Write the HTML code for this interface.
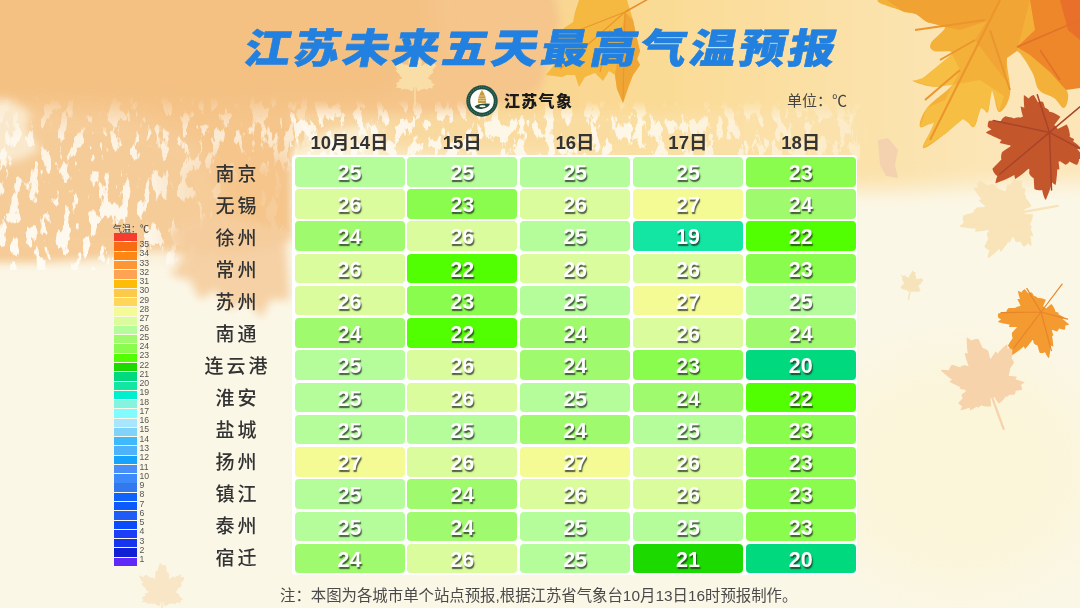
<!DOCTYPE html>
<html><head><meta charset="utf-8">
<style>
*{margin:0;padding:0;box-sizing:border-box}
html,body{width:1080px;height:608px;overflow:hidden}
body{position:relative;background:#fbf5e8;font-family:"Liberation Sans","Noto Sans CJK SC",sans-serif}
#bg{position:absolute;left:0;top:0;width:1080px;height:608px}
.title{position:absolute;left:251px;top:19.3px;font-family:"Liberation Sans","Noto Sans CJK SC",sans-serif;font-weight:900;font-size:40.6px;letter-spacing:2.65px;color:#2180e0;-webkit-text-stroke:0.6px #2180e0;transform-origin:0 0;transform:scaleX(1.145) skewX(-10deg);white-space:nowrap;line-height:60px}
.logo{position:absolute;left:466px;top:84.5px;width:32px;height:32px}
.logotxt{position:absolute;left:504px;top:89.5px;font-family:"Liberation Sans","Noto Sans CJK SC",sans-serif;font-weight:900;font-size:16px;letter-spacing:1.3px;color:#1a1a1a;line-height:24px;white-space:nowrap}
.unit{position:absolute;left:787px;top:89.5px;font-family:"Liberation Sans","Noto Sans CJK SC",sans-serif;font-size:15px;color:#444;line-height:22px;white-space:nowrap}
.hd{position:absolute;top:130.5px;width:110px;text-align:center;font-family:"Liberation Sans","Noto Sans CJK SC",sans-serif;font-weight:700;font-size:18.5px;color:#333;line-height:24px}
#tblbg{position:absolute;left:292px;top:155px;width:565px;height:420px;background:#fff;border-radius:4px}
.cell{position:absolute;width:110px;height:29.5px;border-radius:4px;text-align:center;color:#fff;font-family:"Liberation Sans","Noto Sans CJK SC",sans-serif;font-weight:700;font-size:21.5px;line-height:33px;text-shadow:1px 1.5px 1.2px rgba(30,40,30,.75)}
.city{position:absolute;left:196px;width:80px;text-align:center;font-family:"Liberation Sans","Noto Sans CJK SC",sans-serif;font-weight:500;font-size:19px;letter-spacing:3px;color:#333;line-height:30px;padding-left:3px;margin-top:2.5px}
.t27{background:#f5fb94}.t26{background:#dbfc9c}.t25{background:#b5fd9b}.t24{background:#a0fa6e}.t23{background:#8afc4e}
.t22{background:#52fe02}.t21{background:#1cd900}.t20{background:#00d97e}.t19{background:#12e6a2}
.lb{position:absolute;left:114px;width:22.5px;height:8.3px}
#legbg{position:absolute;left:114px;top:233px;width:22.5px;height:334px;background:#fdfbf3}
.ll{position:absolute;left:139.5px;font-family:"Liberation Sans","Noto Sans CJK SC",sans-serif;font-size:8.7px;color:#555;line-height:10px}
.legt{position:absolute;left:113px;top:223px;font-family:"Liberation Sans","Noto Sans CJK SC",sans-serif;font-size:9px;color:#333;line-height:12px;white-space:nowrap}
.foot{position:absolute;left:280px;top:584.5px;font-family:"Liberation Sans","Noto Sans CJK SC",sans-serif;font-size:15.4px;color:#4a4a4a;line-height:22px;white-space:nowrap}
</style></head><body>
<svg id="bg" width="1080" height="608" viewBox="0 0 1080 608">
<defs>
<filter id="b4" x="-20%" y="-20%" width="140%" height="140%"><feGaussianBlur stdDeviation="4"/></filter>
<filter id="b10" x="-30%" y="-30%" width="160%" height="160%"><feGaussianBlur stdDeviation="10"/></filter>
<filter id="b25" x="-30%" y="-30%" width="160%" height="160%"><feGaussianBlur stdDeviation="25"/></filter>
<path id="ml" d="M50,0 L56,14 L62,10 L60,26 L70,30 L76,18 L80,24 L92,20 L86,34 L94,38 L80,46 L84,52 L72,54 L80,66 L96,70 L84,76 L86,84 L70,80 L62,84 L54,72 L52,100 L48,100 L46,72 L38,84 L30,80 L14,84 L16,76 L4,70 L20,66 L28,54 L16,52 L20,46 L6,38 L14,34 L8,20 L20,24 L24,18 L30,30 L40,26 L38,10 L44,14 Z"/>
<filter id="mot" x="0" y="0" width="100%" height="100%" filterUnits="userSpaceOnUse"><feTurbulence type="fractalNoise" baseFrequency="0.10 0.04" numOctaves="4" seed="11" result="n"/><feColorMatrix in="n" type="matrix" values="0 0 0 0 0.99  0 0 0 0 0.965  0 0 0 0 0.90  16 0 0 0 -8.9"/></filter>
<linearGradient id="mg" x1="0" y1="95" x2="0" y2="265" gradientUnits="userSpaceOnUse"><stop offset="0" stop-color="#fff" stop-opacity="0"/><stop offset=".25" stop-color="#fff" stop-opacity=".8"/><stop offset="1" stop-color="#fff" stop-opacity="1"/></linearGradient>
<linearGradient id="mx" x1="140" y1="0" x2="230" y2="0" gradientUnits="userSpaceOnUse"><stop offset="0" stop-color="#000" stop-opacity="0"/><stop offset="1" stop-color="#000" stop-opacity=".85"/></linearGradient>
<linearGradient id="my" x1="0" y1="130" x2="0" y2="175" gradientUnits="userSpaceOnUse"><stop offset="0" stop-color="#fff" stop-opacity="0"/><stop offset="1" stop-color="#fff" stop-opacity="1"/></linearGradient>
<mask id="mxy" maskUnits="userSpaceOnUse" x="-10" y="90" width="320" height="180"><rect x="-10" y="90" width="320" height="180" fill="url(#my)"/></mask>
<mask id="mm" maskUnits="userSpaceOnUse" x="-10" y="90" width="320" height="180"><rect x="-10" y="90" width="320" height="180" fill="url(#mg)"/><rect x="-10" y="90" width="320" height="180" fill="url(#mx)" mask="url(#mxy)"/></mask>
<filter id="mot2" x="0" y="0" width="100%" height="100%" filterUnits="userSpaceOnUse"><feTurbulence type="fractalNoise" baseFrequency="0.11 0.05" numOctaves="4" seed="23" result="n"/><feColorMatrix in="n" type="matrix" values="0 0 0 0 0.995  0 0 0 0 0.975  0 0 0 0 0.92  16 0 0 0 -8.4"/></filter>
<linearGradient id="mg2" x1="0" y1="100" x2="0" y2="158" gradientUnits="userSpaceOnUse"><stop offset="0" stop-color="#fff" stop-opacity="0"/><stop offset=".35" stop-color="#fff" stop-opacity=".85"/><stop offset="1" stop-color="#fff" stop-opacity=".85"/></linearGradient>
<linearGradient id="mx2" x1="620" y1="0" x2="860" y2="0" gradientUnits="userSpaceOnUse"><stop offset="0" stop-color="#000" stop-opacity="0"/><stop offset="1" stop-color="#000" stop-opacity=".6"/></linearGradient>
<mask id="mm2" maskUnits="userSpaceOnUse" x="290" y="100" width="570" height="60"><rect x="290" y="100" width="570" height="60" fill="url(#mg2)"/><rect x="290" y="100" width="570" height="60" fill="url(#mx2)"/></mask>
<linearGradient id="yw" x1="380" y1="0" x2="1000" y2="0" gradientUnits="userSpaceOnUse"><stop offset="0" stop-color="#f7ce8c"/><stop offset=".45" stop-color="#fadb95"/><stop offset="1" stop-color="#fce6b8"/></linearGradient>
</defs>
<rect width="1080" height="608" fill="#fbf7e7"/>
<ellipse cx="960" cy="470" rx="140" ry="120" fill="#fbf5da" filter="url(#b25)"/>
<path d="M380,-60 L1140,-60 L1140,180 L1000,185 L900,190 L860,190 L700,170 L560,160 L380,150 Z" fill="url(#yw)" filter="url(#b10)"/>
<path d="M-60,-60 L540,-60 L560,20 L540,90 L470,115 L400,120 L330,130 L292,150 L292,240 L230,255 L150,250 L100,258 L40,262 L-60,262 Z" fill="#f5c58b" filter="url(#b4)"/>
<path d="M-60,-60 L420,-60 L440,60 L380,100 L200,110 L-60,100 Z" fill="#f4c183" filter="url(#b10)"/>
<path d="M-60,105 L120,110 L200,140 L230,200 L200,262 L-60,262 Z" fill="#f8dcb8" filter="url(#b10)" opacity=".3"/>
<path d="M-10,98 L10,100 L30,112 L26,130 L40,150 L20,160 L-10,165 Z" fill="#fbecd2" filter="url(#b4)" opacity=".9"/>
<g mask="url(#mm)"><rect x="-10" y="90" width="320" height="180" filter="url(#mot)"/></g>
<path d="M180,220 L230,215 L285,230 L290,300 L270,300 L262,318 L245,300 L230,310 L215,290 L200,300 L190,280 L170,275 L185,255 L165,240 Z" fill="#f5cd9e" filter="url(#b4)" opacity=".9"/>
<path d="M292,112 L860,112 L860,156 L292,156 Z" fill="#fbe3b2" filter="url(#b4)" opacity=".45"/>
<g mask="url(#mm2)"><rect x="290" y="100" width="570" height="60" filter="url(#mot2)"/></g>
<path d="M579,0 L627,0 L633,20 L637,39 L640,51 L637,59 L640,65 L633,75 L629,85 L623,103 L617,89 L615,75 L609,71 L603,81 L595,73 L585,77 L579,87 L575,75 L567,75 L562,77 L546,75 L554,65 L560,55 L564,45 L556,39 L564,28 L573,22 L575,12 Z" fill="#f5b941"/>
<path d="M625,12 L633,20 L637,39 L640,51 L637,59 L640,65 L633,75 L629,85 L623,103 L617,89 L615,75 Z" fill="#f0a634"/>
<path d="M625,12 L650,-2" stroke="#e98c2c" stroke-width="1.5"/>
<path d="M625,12 L623,100 M625,12 L560,69 M625,12 L579,30 M610,30 L600,72" stroke="#ec952e" stroke-width="1.1" fill="none"/>
<path d="M878,140 L888,138 L898,150 L895,165 L898,178 L886,176 L880,165 Z" fill="#f4d2b0"/>

<path d="M415.0,87.0 L414.9,87.0 L414.7,87.0 L414.6,87.0 L414.4,87.0 L414.3,87.0 L414.1,87.0 L414.0,87.0 L413.8,86.9 L412.8,91.3 L412.6,91.3 L412.4,91.2 L412.1,91.2 L411.9,91.1 L411.7,91.0 L411.4,91.0 L411.2,90.9 L411.0,90.8 L410.8,90.7 L410.5,90.6 L410.3,90.5 L410.1,90.4 L409.9,90.3 L409.7,90.2 L409.5,90.1 L409.2,90.0 L409.0,89.9 L408.8,89.7 L408.6,89.6 L408.4,89.5 L408.2,89.3 L408.0,89.2 L408.0,88.9 L407.6,88.9 L407.2,89.1 L406.7,89.2 L406.2,89.4 L405.6,89.6 L405.5,89.3 L405.4,89.0 L405.4,88.7 L404.8,88.8 L404.2,88.9 L403.6,89.1 L402.9,89.2 L402.2,89.3 L401.5,89.4 L400.8,89.4 L400.9,88.9 L401.1,88.4 L401.4,87.8 L400.7,87.9 L399.9,87.9 L399.2,87.9 L398.4,87.8 L397.5,87.8 L396.7,87.7 L395.8,87.6 L396.3,87.0 L396.8,86.3 L397.5,85.7 L397.2,85.4 L396.9,85.0 L396.7,84.7 L396.5,84.3 L396.3,84.0 L396.1,83.6 L396.0,83.2 L397.2,82.6 L398.3,82.1 L399.4,81.6 L399.3,81.3 L399.2,81.0 L399.2,80.7 L399.2,80.3 L399.2,80.0 L399.3,79.7 L399.4,79.3 L400.4,79.1 L401.3,78.8 L402.1,78.6 L402.2,78.4 L402.3,78.1 L402.4,77.9 L401.8,77.5 L401.1,77.1 L400.4,76.6 L399.7,76.1 L399.8,75.7 L399.9,75.4 L400.1,75.2 L399.5,74.6 L398.8,74.0 L398.2,73.3 L397.5,72.6 L396.8,71.9 L396.1,71.1 L395.4,70.3 L396.0,70.0 L396.6,69.9 L397.3,69.8 L396.7,68.9 L396.1,68.0 L395.5,67.0 L394.9,66.0 L394.3,64.9 L393.7,63.8 L393.1,62.6 L394.1,62.7 L395.7,63.3 L397.5,64.2 L397.7,63.8 L398.0,63.4 L398.4,63.0 L398.7,62.7 L399.1,62.4 L399.6,62.1 L400.0,61.9 L401.4,62.9 L402.7,63.8 L403.9,64.8 L404.3,64.6 L404.7,64.5 L405.1,64.4 L405.5,64.4 L406.0,64.4 L406.5,64.5 L406.9,64.6 L407.8,65.5 L408.3,65.8 L408.6,65.7 L408.6,64.8 L408.6,63.8 L408.6,62.8 L408.6,61.7 L408.7,60.6 L408.8,59.4 L408.9,58.2 L409.5,58.4 L410.0,58.7 L410.5,59.0 L410.8,57.9 L411.1,56.7 L411.4,55.5 L411.7,54.2 L412.2,52.9 L412.6,51.6 L413.1,50.2 L413.8,51.0 L414.4,51.9 L415.0,52.9 L415.6,52.8 L416.1,52.8 L416.7,52.8 L417.3,52.8 L417.8,52.9 L418.4,53.1 L418.9,53.3 L419.2,55.4 L419.3,57.2 L419.5,59.0 L419.9,59.3 L420.3,59.5 L420.6,59.8 L421.0,60.2 L421.3,60.6 L421.6,61.0 L421.9,61.5 L421.7,63.0 L421.6,64.4 L421.4,65.7 L421.5,66.1 L421.9,66.1 L422.6,65.5 L423.3,65.0 L424.0,64.4 L424.8,63.8 L425.6,63.2 L425.8,63.7 L426.0,64.2 L426.1,64.8 L426.9,64.3 L427.8,63.8 L428.8,63.3 L429.8,62.8 L430.9,62.4 L432.0,61.9 L433.2,61.5 L433.0,62.3 L432.8,63.3 L432.5,64.2 L433.7,63.9 L434.6,63.8 L435.0,64.1 L435.4,64.5 L435.7,64.9 L436.0,65.4 L436.3,65.9 L435.1,67.3 L433.9,68.6 L432.7,69.8 L432.9,70.2 L433.0,70.6 L433.1,71.0 L433.2,71.4 L433.2,71.9 L433.2,72.4 L433.1,72.8 L432.0,73.7 L430.9,74.5 L429.9,75.2 L429.8,75.5 L429.6,75.9 L429.4,76.3 L429.2,76.7 L428.9,77.1 L428.5,77.4 L428.3,77.8 L428.2,78.0 L428.1,78.3 L427.9,78.6 L428.4,78.9 L429.0,79.1 L429.6,79.4 L430.2,79.7 L430.8,80.0 L431.4,80.3 L432.0,80.7 L431.6,81.0 L431.2,81.4 L430.6,81.6 L431.2,82.0 L431.8,82.5 L432.4,82.9 L433.1,83.4 L433.7,84.0 L434.4,84.5 L435.0,85.1 L434.2,85.4 L433.4,85.6 L432.5,85.7 L432.6,86.1 L432.6,86.5 L432.6,87.0 L432.5,87.4 L432.5,87.8 L432.4,88.2 L432.2,88.6 L430.9,88.3 L429.7,88.1 L428.6,87.8 L428.5,88.2 L428.3,88.5 L428.2,88.8 L428.0,89.0 L427.8,89.3 L427.5,89.5 L427.2,89.7 L426.3,89.4 L425.4,89.0 L424.6,88.7 L424.4,88.8 L424.2,89.0 L423.9,89.1 L423.6,89.2 L423.3,89.2 L423.0,89.3 L422.7,89.2 L422.1,89.0 L422.0,89.2 L421.8,89.3 L421.6,89.5 L421.4,89.6 L421.2,89.7 L421.0,89.9 L420.8,90.0 L420.5,90.1 L420.3,90.2 L420.1,90.3 L419.9,90.4 L419.7,90.5 L419.5,90.6 L419.2,90.7 L419.0,90.8 L418.8,90.9 L418.6,91.0 L418.3,91.0 L418.1,91.1 L417.9,91.2 L417.6,91.2 L417.4,91.3 L417.2,91.3 L416.2,86.9 L416.0,87.0 L415.9,87.0 L415.7,87.0 L415.6,87.0 L415.4,87.0 L415.3,87.0 L415.1,87.0 L415.0,87.0 Z" fill="#f9dea8"/><path d="M415.0,83.2 L415.0,105.6" stroke="#f9dea8" stroke-width="1.5" fill="none" stroke-linecap="round"/>
<path d="M1024.6,211.8 L1024.6,212.0 L1024.6,212.3 L1024.7,212.6 L1024.7,212.8 L1024.7,213.1 L1024.7,213.4 L1024.8,213.6 L1024.8,213.9 L1032.9,214.3 L1032.9,214.7 L1032.8,215.2 L1032.8,215.6 L1032.8,216.0 L1032.7,216.5 L1032.7,216.9 L1032.6,217.3 L1032.5,217.8 L1032.5,218.2 L1032.4,218.6 L1032.3,219.1 L1032.1,219.5 L1032.0,219.9 L1031.9,220.3 L1031.8,220.7 L1031.6,221.1 L1031.5,221.6 L1031.3,222.0 L1031.1,222.4 L1031.0,222.8 L1030.8,223.2 L1030.6,223.5 L1030.0,223.7 L1030.2,224.4 L1030.6,225.1 L1031.1,225.9 L1031.6,226.8 L1032.1,227.8 L1031.7,228.1 L1031.2,228.3 L1030.5,228.5 L1030.9,229.4 L1031.3,230.5 L1031.8,231.5 L1032.2,232.7 L1032.6,233.8 L1032.9,235.1 L1033.3,236.4 L1032.4,236.3 L1031.4,236.1 L1030.3,235.8 L1030.5,237.1 L1030.8,238.4 L1031.0,239.8 L1031.2,241.2 L1031.4,242.7 L1031.5,244.3 L1031.6,245.9 L1030.3,245.2 L1029.0,244.4 L1027.7,243.5 L1027.2,244.1 L1026.7,244.7 L1026.2,245.2 L1025.6,245.7 L1025.0,246.1 L1024.4,246.5 L1023.7,246.8 L1022.3,244.9 L1021.0,243.1 L1019.8,241.3 L1019.3,241.6 L1018.7,241.8 L1018.2,242.0 L1017.6,242.1 L1017.0,242.1 L1016.4,242.1 L1015.7,242.1 L1015.0,240.4 L1014.3,238.9 L1013.6,237.5 L1013.1,237.4 L1012.6,237.3 L1012.2,237.1 L1011.7,238.4 L1011.1,239.7 L1010.5,241.1 L1009.8,242.5 L1009.2,242.5 L1008.6,242.4 L1008.1,242.1 L1007.2,243.4 L1006.4,244.7 L1005.4,246.1 L1004.4,247.6 L1003.3,249.0 L1002.1,250.5 L1000.8,252.1 L1000.2,251.1 L999.7,250.0 L999.3,248.8 L998.0,250.1 L996.5,251.5 L995.0,252.9 L993.4,254.3 L991.6,255.8 L989.8,257.2 L987.9,258.6 L987.7,256.8 L988.3,253.7 L989.4,250.2 L988.5,249.9 L987.7,249.5 L986.9,249.1 L986.2,248.5 L985.5,247.9 L984.9,247.2 L984.4,246.5 L985.7,243.6 L987.0,241.0 L988.3,238.6 L987.9,237.9 L987.6,237.3 L987.3,236.6 L987.1,235.8 L987.0,235.0 L987.0,234.1 L987.0,233.3 L988.4,231.4 L988.8,230.4 L988.5,229.9 L986.8,230.2 L985.1,230.6 L983.2,230.9 L981.3,231.1 L979.3,231.4 L977.2,231.6 L975.1,231.7 L975.2,230.7 L975.5,229.7 L976.0,228.5 L973.9,228.5 L971.7,228.4 L969.4,228.2 L967.0,227.9 L964.6,227.6 L962.1,227.2 L959.4,226.7 L960.6,225.3 L962.0,223.9 L963.7,222.5 L963.3,221.5 L963.0,220.5 L962.8,219.5 L962.8,218.5 L962.8,217.4 L962.9,216.4 L963.2,215.4 L966.7,214.3 L970.0,213.4 L973.2,212.6 L973.4,211.8 L973.8,211.1 L974.2,210.3 L974.7,209.6 L975.4,208.9 L976.1,208.2 L976.9,207.6 L979.6,207.3 L982.1,207.2 L984.4,207.1 L985.2,206.7 L985.0,206.1 L983.8,205.1 L982.6,204.0 L981.3,202.8 L980.0,201.6 L978.7,200.3 L979.4,199.8 L980.3,199.4 L981.3,199.0 L980.2,197.6 L979.0,196.2 L977.9,194.6 L976.7,193.0 L975.5,191.2 L974.4,189.4 L973.2,187.4 L974.8,187.4 L976.5,187.4 L978.3,187.7 L977.3,185.7 L976.9,184.1 L977.4,183.2 L977.9,182.5 L978.6,181.7 L979.3,181.1 L980.1,180.5 L983.0,182.2 L985.7,183.9 L988.2,185.6 L988.8,185.2 L989.5,184.8 L990.2,184.5 L991.0,184.2 L991.8,184.1 L992.7,184.0 L993.5,184.0 L995.4,185.7 L997.1,187.4 L998.7,189.0 L999.4,189.1 L1000.1,189.2 L1000.9,189.4 L1001.6,189.8 L1002.4,190.2 L1003.1,190.6 L1003.8,191.0 L1004.4,191.0 L1004.9,191.1 L1005.5,191.4 L1005.8,190.4 L1006.0,189.3 L1006.3,188.2 L1006.7,187.1 L1007.0,185.9 L1007.5,184.6 L1007.9,183.3 L1008.6,184.0 L1009.3,184.7 L1010.0,185.6 L1010.6,184.4 L1011.1,183.2 L1011.8,182.0 L1012.5,180.7 L1013.2,179.4 L1014.0,178.0 L1014.9,176.6 L1015.5,178.0 L1016.1,179.4 L1016.6,181.0 L1017.4,180.7 L1018.1,180.5 L1018.9,180.4 L1019.6,180.4 L1020.4,180.4 L1021.1,180.4 L1021.8,180.6 L1021.9,182.9 L1021.8,185.2 L1021.7,187.3 L1022.3,187.4 L1022.9,187.5 L1023.5,187.7 L1024.0,188.0 L1024.5,188.3 L1025.0,188.7 L1025.5,189.1 L1025.1,190.9 L1024.8,192.5 L1024.5,194.0 L1024.8,194.4 L1025.1,194.8 L1025.4,195.2 L1025.7,195.7 L1025.9,196.2 L1026.0,196.8 L1026.1,197.4 L1025.8,198.4 L1026.2,198.7 L1026.5,199.0 L1026.8,199.3 L1027.1,199.6 L1027.4,199.9 L1027.7,200.2 L1028.0,200.6 L1028.3,200.9 L1028.5,201.3 L1028.8,201.6 L1029.1,202.0 L1029.3,202.3 L1029.6,202.7 L1029.8,203.1 L1030.0,203.4 L1030.2,203.8 L1030.4,204.2 L1030.6,204.6 L1030.8,205.0 L1031.0,205.4 L1031.2,205.8 L1031.4,206.2 L1031.5,206.6 L1024.0,209.7 L1024.1,210.0 L1024.2,210.2 L1024.3,210.5 L1024.3,210.7 L1024.4,211.0 L1024.5,211.3 L1024.5,211.5 L1024.6,211.8 Z" fill="#f8e4b8"/><path d="M1017.7,213.0 L1057.7,205.9" stroke="#f8e4b8" stroke-width="2.3" fill="none" stroke-linecap="round"/>
<path d="M910.4,289.7 L910.3,289.7 L910.2,289.7 L910.1,289.6 L910.0,289.6 L910.0,289.6 L909.9,289.6 L909.8,289.5 L909.7,289.5 L908.8,291.7 L908.7,291.7 L908.6,291.6 L908.5,291.6 L908.4,291.5 L908.2,291.5 L908.1,291.4 L908.0,291.3 L907.9,291.3 L907.8,291.2 L907.7,291.1 L907.6,291.1 L907.5,291.0 L907.4,290.9 L907.3,290.8 L907.2,290.8 L907.1,290.7 L907.0,290.6 L906.9,290.5 L906.8,290.4 L906.7,290.3 L906.6,290.3 L906.5,290.2 L906.5,290.0 L906.3,290.0 L906.1,290.0 L905.8,290.1 L905.5,290.1 L905.2,290.2 L905.1,290.0 L905.1,289.8 L905.2,289.7 L904.8,289.7 L904.5,289.7 L904.2,289.7 L903.8,289.7 L903.5,289.7 L903.1,289.7 L902.7,289.6 L902.8,289.4 L903.0,289.1 L903.2,288.9 L902.8,288.8 L902.4,288.7 L902.0,288.7 L901.6,288.6 L901.1,288.5 L900.7,288.3 L900.2,288.2 L900.6,287.9 L900.9,287.6 L901.3,287.4 L901.2,287.2 L901.1,287.0 L901.0,286.8 L900.9,286.6 L900.8,286.4 L900.8,286.1 L900.8,285.9 L901.4,285.7 L902.1,285.6 L902.7,285.4 L902.7,285.2 L902.7,285.1 L902.7,284.9 L902.7,284.7 L902.8,284.5 L902.8,284.4 L902.9,284.2 L903.4,284.2 L903.9,284.1 L904.4,284.1 L904.4,284.0 L904.5,283.8 L904.6,283.7 L904.3,283.5 L904.0,283.2 L903.7,282.9 L903.4,282.5 L903.4,282.4 L903.5,282.2 L903.7,282.1 L903.4,281.7 L903.1,281.4 L902.8,281.0 L902.5,280.5 L902.2,280.1 L901.9,279.6 L901.6,279.1 L902.0,279.0 L902.3,279.0 L902.7,279.0 L902.4,278.5 L902.2,278.0 L902.0,277.4 L901.8,276.8 L901.5,276.2 L901.3,275.6 L901.1,274.9 L901.7,275.0 L902.4,275.5 L903.3,276.1 L903.5,275.9 L903.7,275.7 L903.9,275.6 L904.1,275.4 L904.3,275.3 L904.6,275.2 L904.8,275.1 L905.5,275.8 L906.1,276.4 L906.6,277.0 L906.8,277.0 L907.0,276.9 L907.3,276.9 L907.5,277.0 L907.7,277.0 L908.0,277.1 L908.2,277.2 L908.6,277.7 L908.8,278.0 L909.0,277.9 L909.1,277.4 L909.1,276.9 L909.2,276.4 L909.4,275.8 L909.5,275.3 L909.6,274.7 L909.8,274.0 L910.1,274.2 L910.4,274.4 L910.6,274.6 L910.8,274.1 L911.1,273.5 L911.4,272.8 L911.7,272.2 L912.0,271.6 L912.4,270.9 L912.8,270.3 L913.0,270.7 L913.3,271.2 L913.5,271.8 L913.8,271.8 L914.1,271.9 L914.4,271.9 L914.7,272.0 L915.0,272.1 L915.3,272.2 L915.5,272.4 L915.5,273.5 L915.4,274.5 L915.3,275.4 L915.5,275.6 L915.6,275.8 L915.8,276.0 L916.0,276.2 L916.1,276.4 L916.2,276.7 L916.3,277.0 L916.1,277.7 L915.9,278.4 L915.7,279.1 L915.7,279.3 L915.9,279.4 L916.3,279.1 L916.7,278.9 L917.1,278.7 L917.6,278.4 L918.1,278.2 L918.2,278.5 L918.2,278.7 L918.2,279.0 L918.7,278.9 L919.2,278.7 L919.8,278.5 L920.3,278.4 L920.9,278.2 L921.6,278.1 L922.2,278.0 L922.1,278.4 L921.9,278.9 L921.6,279.4 L922.3,279.3 L922.8,279.3 L922.9,279.5 L923.1,279.8 L923.2,280.0 L923.4,280.3 L923.4,280.6 L922.7,281.2 L921.9,281.8 L921.2,282.3 L921.3,282.5 L921.3,282.7 L921.3,283.0 L921.3,283.2 L921.3,283.4 L921.2,283.7 L921.1,283.9 L920.5,284.3 L919.8,284.6 L919.2,284.8 L919.1,285.0 L919.0,285.2 L918.9,285.4 L918.7,285.6 L918.5,285.7 L918.3,285.9 L918.1,286.0 L918.1,286.2 L918.0,286.3 L917.9,286.5 L918.1,286.6 L918.4,286.8 L918.7,287.0 L919.0,287.2 L919.2,287.5 L919.5,287.7 L919.9,287.9 L919.6,288.1 L919.3,288.2 L919.0,288.3 L919.3,288.6 L919.6,288.8 L919.8,289.2 L920.1,289.5 L920.4,289.8 L920.7,290.2 L921.0,290.5 L920.6,290.6 L920.1,290.6 L919.6,290.6 L919.6,290.8 L919.6,291.0 L919.6,291.3 L919.5,291.5 L919.4,291.7 L919.3,291.9 L919.2,292.1 L918.6,291.8 L918.0,291.6 L917.4,291.4 L917.3,291.5 L917.2,291.7 L917.1,291.8 L917.0,291.9 L916.8,292.0 L916.7,292.1 L916.5,292.2 L916.1,291.9 L915.6,291.7 L915.2,291.4 L915.1,291.5 L915.0,291.5 L914.8,291.6 L914.7,291.6 L914.5,291.6 L914.3,291.6 L914.1,291.5 L913.9,291.4 L913.8,291.4 L913.7,291.5 L913.6,291.6 L913.5,291.6 L913.3,291.7 L913.2,291.7 L913.1,291.8 L913.0,291.8 L912.9,291.8 L912.7,291.9 L912.6,291.9 L912.5,291.9 L912.4,292.0 L912.2,292.0 L912.1,292.0 L912.0,292.0 L911.9,292.1 L911.7,292.1 L911.6,292.1 L911.5,292.1 L911.3,292.1 L911.2,292.1 L911.1,292.1 L911.0,289.7 L910.9,289.7 L910.8,289.7 L910.7,289.7 L910.7,289.7 L910.6,289.7 L910.5,289.7 L910.4,289.7 L910.4,289.7 Z" fill="#f7e3b9"/><path d="M910.7,287.7 L908.6,299.4" stroke="#f7e3b9" stroke-width="1.5" fill="none" stroke-linecap="round"/>
<path d="M887.0,-2.0 C913.2,-4.4 1016.0,-9.7 1045.0,-2.0 C1074.0,5.7 1042.2,25.0 1045.0,40.0 C1047.8,55.0 1055.8,70.1 1060.0,80.0 C1064.2,89.9 1067.3,88.9 1068.0,94.0 C1068.7,99.1 1066.6,107.3 1064.0,108.0 C1061.4,108.7 1058.6,101.3 1054.0,98.0 C1049.4,94.7 1043.0,94.8 1039.0,90.0 C1035.0,85.2 1036.0,79.2 1032.0,72.0 C1028.0,64.8 1021.6,53.6 1017.0,51.0 C1012.4,48.4 1008.3,50.1 1007.0,58.0 C1005.7,65.9 1011.5,84.1 1010.0,94.0 C1008.5,103.9 1002.3,112.7 999.0,112.0 C995.7,111.3 994.0,90.0 992.0,90.0 C990.0,90.0 990.0,108.7 988.0,112.0 C986.0,115.3 983.6,105.2 981.0,108.0 C978.4,110.8 977.3,125.0 974.0,127.0 C970.7,129.0 968.3,117.7 963.0,119.0 C957.7,120.3 952.3,128.7 945.0,134.0 C937.7,139.3 925.0,150.0 923.0,148.0 C921.0,146.0 934.5,126.8 934.0,123.0 C933.5,119.2 921.3,129.8 920.0,127.0 C918.7,124.2 921.1,115.7 927.0,108.0 C932.9,100.3 950.7,88.8 952.0,85.0 C953.3,81.2 941.1,87.7 934.0,87.0 C926.9,86.3 915.0,82.7 913.0,81.0 C911.0,79.3 915.9,83.0 923.0,78.0 C930.1,73.0 950.0,59.0 952.0,54.0 C954.0,49.0 937.9,53.0 934.0,51.0 C930.1,49.0 929.0,47.4 931.0,43.0 C933.0,38.6 945.7,30.9 945.0,27.0 C944.3,23.1 932.3,24.4 927.0,22.0 C921.7,19.6 920.6,16.0 916.0,14.0 C911.4,12.0 907.3,13.9 902.0,11.0 C896.7,8.1 860.8,0.4 887.0,-2.0 Z" fill="#f4b13a"/>

<path d="M887,0 L1000,0 L990,20 L960,30 L945,27 L927,22 L916,14 L902,11 Z" fill="#f0a232"/>
<path d="M1000,0 L1030,0 L1017,51 L1007,58 L1005,80 L990,60 L975,40 Z" fill="#f0a535"/>
<path d="M952,85 L934,87 L913,81 L923,78 L952,54 L960,70 L945,100 L927,108 L920,127 L934,123 L923,148 L945,134 L963,119 L974,127 L981,108 L988,112 L992,90 L999,112 L1004,96 L980,80 Z" fill="#f6bf43"/>
<path d="M1000,0 L930,140 M975,40 L940,60 M985,20 L915,30 M960,70 L925,100 M990,30 L1010,90" stroke="#ec952c" stroke-width="2" fill="none"/>
<path d="M1030,0 L1080,0 L1080,88 L1066,90 L1050,72 L1030,55 L1017,47 L1035,30 Z" fill="#ee862a"/>
<path d="M1060,0 L1080,0 L1080,40 L1068,30 Z" fill="#e8702a"/>
<path d="M1017,47 L1080,20 M1040,50 L1060,80" stroke="#e2712a" stroke-width="1.5" fill="none"/>

<path d="M1056.1,126.8 L1056.3,127.1 L1056.5,127.3 L1056.7,127.6 L1056.9,127.9 L1057.1,128.1 L1057.3,128.4 L1057.5,128.7 L1057.7,129.0 L1066.6,124.4 L1066.9,124.8 L1067.1,125.3 L1067.4,125.8 L1067.6,126.3 L1067.8,126.8 L1068.0,127.3 L1068.2,127.8 L1068.4,128.3 L1068.6,128.8 L1068.8,129.3 L1068.9,129.9 L1069.1,130.4 L1069.2,130.9 L1069.3,131.4 L1069.4,132.0 L1069.5,132.5 L1069.6,133.0 L1069.7,133.6 L1069.8,134.1 L1069.8,134.7 L1069.9,135.2 L1069.9,135.7 L1069.4,136.3 L1070.1,136.8 L1070.9,137.4 L1072.0,138.0 L1073.0,138.6 L1074.2,139.3 L1073.9,139.9 L1073.5,140.5 L1072.9,141.1 L1073.9,141.9 L1075.0,142.7 L1076.1,143.6 L1077.3,144.6 L1078.4,145.6 L1079.6,146.7 L1080.8,147.8 L1079.7,148.3 L1078.5,148.8 L1077.2,149.1 L1078.3,150.3 L1079.3,151.6 L1080.4,152.9 L1081.6,154.4 L1082.7,155.9 L1083.8,157.5 L1084.9,159.1 L1083.1,159.2 L1081.2,159.1 L1079.1,158.9 L1079.0,159.9 L1078.9,160.9 L1078.6,161.8 L1078.3,162.7 L1077.9,163.5 L1077.5,164.3 L1077.0,165.0 L1074.3,163.9 L1071.8,162.7 L1069.4,161.5 L1069.0,162.2 L1068.5,162.7 L1068.0,163.3 L1067.4,163.8 L1066.8,164.2 L1066.1,164.5 L1065.4,164.8 L1063.6,163.6 L1061.9,162.4 L1060.3,161.2 L1059.8,161.4 L1059.1,161.6 L1058.5,161.7 L1058.8,163.4 L1059.0,165.2 L1059.2,167.1 L1059.4,169.0 L1058.7,169.4 L1058.0,169.6 L1057.2,169.6 L1057.1,171.5 L1057.0,173.5 L1056.9,175.6 L1056.6,177.8 L1056.4,180.1 L1056.0,182.4 L1055.6,184.9 L1054.4,184.2 L1053.2,183.4 L1052.0,182.3 L1051.4,184.6 L1050.7,186.9 L1049.9,189.4 L1049.0,191.9 L1048.0,194.5 L1046.9,197.2 L1045.8,199.9 L1044.4,198.0 L1043.2,194.4 L1042.1,190.0 L1041.0,190.2 L1039.9,190.3 L1038.8,190.3 L1037.7,190.1 L1036.6,189.9 L1035.5,189.5 L1034.4,189.0 L1034.1,185.2 L1033.9,181.6 L1033.7,178.1 L1032.9,177.7 L1032.2,177.2 L1031.4,176.6 L1030.8,175.9 L1030.1,175.1 L1029.6,174.2 L1029.1,173.2 L1029.4,170.4 L1029.2,169.0 L1028.5,168.7 L1027.0,170.1 L1025.3,171.5 L1023.6,173.0 L1021.7,174.5 L1019.7,176.0 L1017.5,177.5 L1015.3,179.0 L1014.8,177.8 L1014.5,176.5 L1014.3,175.0 L1012.0,176.2 L1009.6,177.4 L1007.0,178.7 L1004.3,179.9 L1001.5,181.0 L998.5,182.2 L995.4,183.3 L995.8,181.0 L996.4,178.6 L997.3,176.2 L996.3,175.3 L995.4,174.4 L994.6,173.4 L993.9,172.4 L993.2,171.2 L992.8,170.0 L992.4,168.8 L995.5,165.5 L998.5,162.4 L1001.4,159.6 L1001.2,158.6 L1001.1,157.6 L1001.1,156.5 L1001.2,155.4 L1001.4,154.2 L1001.8,153.0 L1002.2,151.9 L1005.0,150.0 L1007.6,148.3 L1010.1,146.7 L1010.6,145.8 L1010.1,145.2 L1008.2,144.9 L1006.2,144.5 L1004.1,144.0 L1001.9,143.5 L999.7,142.9 L1000.2,141.9 L1000.8,140.9 L1001.7,140.0 L999.6,139.2 L997.5,138.3 L995.3,137.3 L993.0,136.3 L990.6,135.1 L988.2,133.9 L985.8,132.5 L987.4,131.5 L989.3,130.5 L991.5,129.6 L989.2,128.1 L987.7,126.7 L987.7,125.4 L987.8,124.2 L988.0,123.0 L988.4,121.9 L988.9,120.8 L993.1,120.8 L997.0,121.0 L1000.8,121.3 L1001.2,120.4 L1001.7,119.6 L1002.3,118.8 L1003.0,118.0 L1003.7,117.4 L1004.6,116.7 L1005.5,116.2 L1008.6,116.9 L1011.5,117.6 L1014.2,118.4 L1015.0,118.0 L1015.8,117.7 L1016.8,117.5 L1017.8,117.4 L1018.8,117.3 L1020.0,117.4 L1021.0,117.4 L1021.5,117.0 L1022.2,116.8 L1023.0,116.7 L1022.6,115.5 L1022.3,114.2 L1021.9,112.8 L1021.5,111.3 L1021.2,109.8 L1020.9,108.2 L1020.6,106.6 L1021.7,106.8 L1023.0,107.2 L1024.3,107.7 L1024.1,106.1 L1024.0,104.4 L1023.9,102.7 L1023.8,100.9 L1023.8,99.0 L1023.8,97.1 L1023.9,95.0 L1025.4,96.1 L1027.0,97.2 L1028.5,98.6 L1029.1,97.9 L1029.8,97.2 L1030.6,96.6 L1031.3,96.1 L1032.1,95.6 L1033.0,95.3 L1033.8,94.9 L1035.3,97.5 L1036.7,99.9 L1037.9,102.2 L1038.6,102.0 L1039.3,101.8 L1040.0,101.6 L1040.8,101.6 L1041.5,101.6 L1042.3,101.7 L1043.0,101.9 L1043.8,104.0 L1044.4,106.0 L1045.0,107.8 L1045.6,108.0 L1046.2,108.2 L1046.8,108.5 L1047.4,108.9 L1047.9,109.3 L1048.4,109.8 L1048.9,110.4 L1049.2,111.7 L1049.7,111.7 L1050.3,111.8 L1050.8,112.0 L1051.3,112.1 L1051.8,112.3 L1052.4,112.5 L1052.9,112.6 L1053.4,112.8 L1053.9,113.0 L1054.4,113.2 L1054.9,113.5 L1055.4,113.7 L1055.8,113.9 L1056.3,114.2 L1056.8,114.5 L1057.3,114.7 L1057.7,115.0 L1058.2,115.3 L1058.6,115.6 L1059.1,115.9 L1059.5,116.2 L1060.0,116.6 L1060.4,116.9 L1054.3,124.9 L1054.5,125.2 L1054.8,125.4 L1055.0,125.6 L1055.2,125.8 L1055.5,126.1 L1055.7,126.3 L1055.9,126.6 L1056.1,126.8 Z" fill="#c4562c"/><path d="M1049.5,132.4 L999.9,174.0 M1049.5,132.4 L993.2,120.4 M1049.5,132.4 L1051.5,189.9 M1049.5,132.4 L1037.3,94.7 M1049.5,132.4 L1084.5,151.0 M1049.5,132.4 L1088.1,100.0" stroke="#a9442a" stroke-width="1.5" fill="none" stroke-linecap="round"/>
<path d="M992.3,397.8 L992.0,397.9 L991.8,398.0 L991.5,398.0 L991.3,398.1 L991.0,398.2 L990.8,398.2 L990.5,398.3 L990.3,398.3 L991.3,406.3 L990.9,406.3 L990.4,406.4 L990.0,406.4 L989.6,406.5 L989.1,406.5 L988.7,406.5 L988.3,406.5 L987.9,406.5 L987.4,406.5 L987.0,406.5 L986.6,406.5 L986.1,406.4 L985.7,406.4 L985.3,406.3 L984.9,406.3 L984.4,406.2 L984.0,406.1 L983.6,406.0 L983.2,405.9 L982.8,405.8 L982.3,405.7 L981.9,405.6 L981.6,405.1 L981.1,405.4 L980.4,405.9 L979.7,406.5 L978.9,407.2 L978.1,407.8 L977.7,407.5 L977.4,407.0 L977.1,406.4 L976.3,407.0 L975.4,407.5 L974.4,408.1 L973.4,408.7 L972.3,409.3 L971.2,409.9 L970.0,410.5 L969.9,409.5 L969.9,408.5 L970.0,407.4 L968.8,407.9 L967.6,408.3 L966.3,408.8 L964.9,409.2 L963.5,409.7 L962.0,410.1 L960.5,410.5 L960.9,409.1 L961.5,407.6 L962.2,406.2 L961.5,405.9 L960.8,405.5 L960.2,405.0 L959.6,404.6 L959.1,404.1 L958.6,403.5 L958.2,402.9 L959.8,401.2 L961.4,399.7 L962.9,398.3 L962.5,397.8 L962.2,397.3 L962.0,396.7 L961.8,396.2 L961.6,395.6 L961.5,395.0 L961.5,394.4 L962.9,393.4 L964.3,392.4 L965.6,391.6 L965.6,391.1 L965.6,390.6 L965.7,390.1 L964.4,389.8 L963.0,389.5 L961.5,389.2 L960.0,388.7 L959.9,388.2 L960.0,387.6 L960.2,387.0 L958.8,386.4 L957.3,385.8 L955.8,385.1 L954.2,384.3 L952.6,383.5 L951.0,382.6 L949.3,381.7 L950.1,380.9 L951.0,380.3 L952.2,379.7 L950.6,378.6 L949.0,377.4 L947.4,376.2 L945.8,374.8 L944.1,373.4 L942.4,371.9 L940.7,370.3 L942.5,369.8 L945.5,369.9 L949.1,370.3 L949.2,369.4 L949.5,368.5 L949.8,367.7 L950.2,366.9 L950.7,366.2 L951.2,365.5 L951.9,364.8 L954.8,365.6 L957.6,366.4 L960.2,367.2 L960.7,366.8 L961.3,366.3 L962.0,365.9 L962.7,365.6 L963.4,365.4 L964.2,365.2 L965.1,365.1 L967.1,366.1 L968.2,366.3 L968.6,365.9 L968.0,364.4 L967.4,362.8 L966.8,361.0 L966.2,359.2 L965.6,357.3 L965.1,355.4 L964.6,353.3 L965.5,353.2 L966.6,353.3 L967.8,353.6 L967.5,351.6 L967.2,349.4 L967.0,347.2 L966.9,344.9 L966.8,342.4 L966.7,339.9 L966.7,337.3 L968.3,338.2 L969.9,339.3 L971.5,340.7 L972.4,340.1 L973.3,339.7 L974.3,339.4 L975.3,339.1 L976.3,339.0 L977.3,338.9 L978.4,339.0 L980.0,342.2 L981.4,345.3 L982.7,348.2 L983.5,348.3 L984.3,348.5 L985.1,348.8 L985.9,349.2 L986.7,349.7 L987.5,350.2 L988.2,350.9 L988.9,353.5 L989.5,355.9 L989.9,358.2 L990.5,358.8 L991.1,358.5 L991.8,357.2 L992.7,355.8 L993.6,354.4 L994.5,353.0 L995.6,351.5 L996.2,352.1 L996.8,352.8 L997.2,353.7 L998.4,352.4 L999.6,351.0 L1000.9,349.7 L1002.3,348.2 L1003.8,346.8 L1005.4,345.4 L1007.1,343.9 L1007.4,345.4 L1007.6,347.1 L1007.7,348.9 L1009.4,347.6 L1011.0,346.9 L1011.9,347.2 L1012.7,347.6 L1013.5,348.1 L1014.3,348.7 L1015.0,349.4 L1013.8,352.5 L1012.6,355.4 L1011.4,358.1 L1011.9,358.7 L1012.4,359.2 L1012.9,359.9 L1013.2,360.6 L1013.5,361.4 L1013.7,362.2 L1013.9,363.0 L1012.5,365.1 L1011.2,367.1 L1009.9,368.9 L1010.0,369.5 L1010.0,370.3 L1009.9,371.0 L1009.7,371.8 L1009.4,372.6 L1009.1,373.4 L1008.8,374.2 L1008.9,374.7 L1008.9,375.3 L1008.8,375.9 L1009.8,375.9 L1010.9,376.0 L1012.0,376.1 L1013.2,376.2 L1014.4,376.4 L1015.7,376.6 L1017.0,376.8 L1016.5,377.6 L1015.9,378.4 L1015.1,379.2 L1016.4,379.6 L1017.6,379.9 L1019.0,380.3 L1020.3,380.8 L1021.7,381.3 L1023.2,381.8 L1024.7,382.4 L1023.5,383.3 L1022.2,384.1 L1020.8,384.9 L1021.1,385.5 L1021.4,386.2 L1021.7,386.9 L1021.9,387.7 L1022.0,388.4 L1022.0,389.1 L1022.0,389.8 L1019.8,390.2 L1017.6,390.6 L1015.5,390.9 L1015.5,391.5 L1015.5,392.0 L1015.4,392.6 L1015.2,393.2 L1015.0,393.7 L1014.7,394.3 L1014.4,394.8 L1012.6,394.8 L1011.0,394.7 L1009.4,394.7 L1009.2,395.1 L1008.8,395.4 L1008.5,395.8 L1008.0,396.1 L1007.5,396.4 L1007.0,396.6 L1006.4,396.8 L1005.4,396.7 L1005.2,397.1 L1005.0,397.5 L1004.8,397.8 L1004.5,398.2 L1004.3,398.5 L1004.0,398.9 L1003.7,399.2 L1003.4,399.5 L1003.2,399.8 L1002.9,400.2 L1002.6,400.5 L1002.3,400.8 L1001.9,401.1 L1001.6,401.3 L1001.3,401.6 L1001.0,401.9 L1000.6,402.2 L1000.3,402.4 L999.9,402.7 L999.6,402.9 L999.2,403.2 L998.9,403.4 L998.5,403.6 L994.2,396.9 L994.0,397.0 L993.7,397.2 L993.5,397.3 L993.3,397.4 L993.0,397.5 L992.8,397.6 L992.5,397.7 L992.3,397.8 Z" fill="#f6d3ab"/><path d="M989.9,391.4 L1003.6,428.8" stroke="#f6d3ab" stroke-width="2.3" fill="none" stroke-linecap="round"/>
<path d="M1044.6,307.2 L1044.8,307.4 L1045.0,307.5 L1045.2,307.6 L1045.3,307.8 L1045.5,308.0 L1045.7,308.1 L1045.8,308.3 L1046.0,308.4 L1051.3,303.9 L1051.6,304.2 L1051.8,304.5 L1052.1,304.8 L1052.3,305.1 L1052.5,305.4 L1052.7,305.7 L1053.0,306.0 L1053.2,306.3 L1053.4,306.6 L1053.6,306.9 L1053.7,307.3 L1053.9,307.6 L1054.1,307.9 L1054.3,308.3 L1054.4,308.6 L1054.6,309.0 L1054.7,309.3 L1054.8,309.7 L1055.0,310.0 L1055.1,310.4 L1055.2,310.7 L1055.3,311.1 L1055.1,311.5 L1055.6,311.8 L1056.3,312.0 L1057.1,312.3 L1057.9,312.6 L1058.8,312.9 L1058.7,313.3 L1058.5,313.8 L1058.2,314.2 L1059.0,314.6 L1059.9,315.0 L1060.8,315.4 L1061.7,315.9 L1062.6,316.4 L1063.6,317.0 L1064.6,317.6 L1064.0,318.1 L1063.2,318.6 L1062.3,319.0 L1063.3,319.6 L1064.2,320.3 L1065.1,321.1 L1066.1,321.9 L1067.1,322.7 L1068.1,323.6 L1069.1,324.6 L1067.9,324.9 L1066.6,325.2 L1065.2,325.4 L1065.3,326.0 L1065.3,326.7 L1065.3,327.4 L1065.2,328.0 L1065.1,328.6 L1064.9,329.2 L1064.7,329.8 L1062.7,329.5 L1060.8,329.1 L1059.0,328.6 L1058.8,329.1 L1058.6,329.6 L1058.3,330.0 L1058.0,330.4 L1057.7,330.8 L1057.3,331.2 L1056.9,331.5 L1055.4,330.9 L1054.1,330.4 L1052.8,329.8 L1052.5,330.1 L1052.1,330.3 L1051.7,330.5 L1052.1,331.6 L1052.5,332.7 L1053.0,334.0 L1053.4,335.3 L1053.0,335.6 L1052.6,335.9 L1052.0,336.0 L1052.3,337.3 L1052.5,338.7 L1052.7,340.1 L1052.9,341.6 L1053.1,343.2 L1053.2,344.9 L1053.3,346.6 L1052.4,346.3 L1051.5,345.9 L1050.5,345.4 L1050.4,347.0 L1050.3,348.8 L1050.2,350.5 L1050.0,352.4 L1049.7,354.3 L1049.4,356.3 L1049.0,358.3 L1047.8,357.2 L1046.4,354.9 L1045.0,352.2 L1044.3,352.5 L1043.6,352.7 L1042.8,352.9 L1042.0,352.9 L1041.2,352.9 L1040.4,352.9 L1039.7,352.7 L1038.8,350.2 L1038.1,347.7 L1037.5,345.4 L1036.9,345.3 L1036.3,345.0 L1035.7,344.7 L1035.1,344.4 L1034.6,343.9 L1034.0,343.4 L1033.6,342.8 L1033.3,340.9 L1033.0,340.0 L1032.5,339.9 L1031.7,341.1 L1030.8,342.3 L1029.8,343.5 L1028.7,344.8 L1027.6,346.2 L1026.4,347.5 L1025.1,348.9 L1024.6,348.2 L1024.2,347.3 L1023.9,346.3 L1022.5,347.5 L1021.0,348.7 L1019.5,350.0 L1017.8,351.2 L1016.1,352.4 L1014.3,353.7 L1012.3,354.9 L1012.3,353.3 L1012.3,351.6 L1012.5,349.8 L1011.7,349.4 L1011.0,348.9 L1010.2,348.4 L1009.6,347.8 L1009.0,347.1 L1008.5,346.4 L1008.0,345.6 L1009.6,342.8 L1011.2,340.3 L1012.7,338.0 L1012.4,337.3 L1012.2,336.6 L1012.0,335.9 L1011.9,335.1 L1011.9,334.3 L1011.9,333.5 L1012.1,332.6 L1013.6,330.9 L1015.1,329.3 L1016.6,327.9 L1016.8,327.2 L1016.3,326.9 L1015.0,326.9 L1013.6,327.0 L1012.1,327.0 L1010.6,327.0 L1009.0,326.9 L1009.1,326.2 L1009.4,325.4 L1009.9,324.6 L1008.3,324.4 L1006.7,324.1 L1005.1,323.8 L1003.4,323.5 L1001.6,323.1 L999.8,322.6 L997.9,322.1 L998.9,321.1 L1000.0,320.1 L1001.3,319.2 L999.5,318.6 L998.3,317.8 L998.1,317.0 L998.0,316.1 L998.0,315.3 L998.0,314.5 L998.2,313.6 L1001.0,313.0 L1003.7,312.5 L1006.3,312.1 L1006.4,311.5 L1006.6,310.8 L1006.9,310.2 L1007.3,309.6 L1007.7,309.0 L1008.2,308.4 L1008.7,307.9 L1010.9,307.9 L1013.0,308.0 L1014.9,308.0 L1015.4,307.7 L1015.9,307.4 L1016.5,307.1 L1017.2,306.8 L1017.9,306.6 L1018.7,306.5 L1019.3,306.3 L1019.7,306.0 L1020.1,305.7 L1020.6,305.6 L1020.2,304.8 L1019.7,303.9 L1019.3,303.1 L1018.8,302.1 L1018.3,301.2 L1017.9,300.2 L1017.4,299.1 L1018.2,299.1 L1019.1,299.1 L1020.1,299.3 L1019.7,298.2 L1019.4,297.1 L1019.0,295.9 L1018.7,294.7 L1018.4,293.4 L1018.1,292.1 L1017.8,290.8 L1019.0,291.2 L1020.3,291.8 L1021.5,292.4 L1021.8,291.8 L1022.2,291.3 L1022.6,290.8 L1023.0,290.3 L1023.5,289.9 L1024.0,289.5 L1024.5,289.1 L1025.9,290.6 L1027.2,292.0 L1028.4,293.4 L1028.9,293.1 L1029.3,292.9 L1029.8,292.7 L1030.3,292.5 L1030.8,292.4 L1031.3,292.4 L1031.8,292.4 L1032.7,293.7 L1033.4,294.9 L1034.1,296.1 L1034.6,296.1 L1035.0,296.2 L1035.4,296.3 L1035.9,296.4 L1036.3,296.7 L1036.7,296.9 L1037.1,297.3 L1037.6,298.1 L1037.9,298.0 L1038.3,298.0 L1038.7,298.0 L1039.1,298.0 L1039.4,298.1 L1039.8,298.1 L1040.2,298.1 L1040.6,298.2 L1040.9,298.2 L1041.3,298.3 L1041.7,298.4 L1042.0,298.5 L1042.4,298.5 L1042.8,298.6 L1043.1,298.8 L1043.5,298.9 L1043.9,299.0 L1044.2,299.1 L1044.6,299.2 L1044.9,299.4 L1045.3,299.5 L1045.6,299.7 L1045.9,299.8 L1043.1,306.2 L1043.3,306.3 L1043.5,306.5 L1043.7,306.6 L1043.9,306.7 L1044.1,306.8 L1044.2,306.9 L1044.4,307.1 L1044.6,307.2 Z" fill="#f39a30"/><path d="M1041.0,312.0 L1013.9,347.9 M1041.0,312.0 L1001.0,312.7 M1041.0,312.0 L1051.4,350.6 M1041.0,312.0 L1026.8,288.4 M1041.0,312.0 L1067.6,319.1 M1041.0,312.0 L1062.1,284.1" stroke="#e7852a" stroke-width="1.2" fill="none" stroke-linecap="round"/>
<path d="M162.0,601.5 L161.8,601.5 L161.7,601.5 L161.5,601.5 L161.4,601.5 L161.2,601.4 L161.1,601.4 L160.9,601.4 L160.8,601.4 L159.7,606.0 L159.5,606.0 L159.2,605.9 L159.0,605.9 L158.7,605.8 L158.5,605.7 L158.2,605.6 L158.0,605.6 L157.7,605.5 L157.5,605.4 L157.3,605.3 L157.0,605.2 L156.8,605.1 L156.6,605.0 L156.3,604.8 L156.1,604.7 L155.9,604.6 L155.7,604.5 L155.4,604.3 L155.2,604.2 L155.0,604.1 L154.8,603.9 L154.6,603.7 L154.5,603.4 L154.2,603.5 L153.7,603.6 L153.2,603.8 L152.6,604.0 L152.0,604.2 L151.9,603.9 L151.8,603.6 L151.7,603.2 L151.2,603.4 L150.5,603.5 L149.9,603.6 L149.2,603.7 L148.4,603.8 L147.7,603.9 L146.9,604.0 L147.0,603.5 L147.3,602.9 L147.6,602.3 L146.8,602.4 L146.0,602.4 L145.2,602.4 L144.3,602.3 L143.4,602.3 L142.5,602.2 L141.6,602.1 L142.1,601.4 L142.7,600.7 L143.4,600.0 L143.1,599.7 L142.8,599.4 L142.5,599.0 L142.3,598.6 L142.1,598.2 L142.0,597.8 L141.9,597.4 L143.1,596.8 L144.3,596.2 L145.4,595.7 L145.3,595.4 L145.2,595.1 L145.2,594.7 L145.2,594.4 L145.2,594.0 L145.3,593.7 L145.4,593.3 L146.4,593.0 L147.4,592.8 L148.3,592.6 L148.4,592.3 L148.5,592.0 L148.7,591.7 L148.0,591.3 L147.3,590.9 L146.5,590.4 L145.8,589.8 L145.8,589.5 L146.0,589.2 L146.2,588.9 L145.5,588.3 L144.8,587.6 L144.1,586.9 L143.4,586.2 L142.7,585.4 L141.9,584.6 L141.2,583.7 L141.8,583.4 L142.4,583.2 L143.2,583.1 L142.6,582.2 L141.9,581.3 L141.3,580.2 L140.6,579.1 L140.0,578.0 L139.3,576.8 L138.7,575.5 L139.8,575.6 L141.5,576.3 L143.4,577.2 L143.7,576.8 L144.0,576.3 L144.3,575.9 L144.7,575.6 L145.1,575.3 L145.6,575.0 L146.1,574.7 L147.6,575.8 L149.0,576.8 L150.2,577.8 L150.6,577.6 L151.1,577.5 L151.5,577.4 L152.0,577.4 L152.4,577.4 L152.9,577.5 L153.4,577.6 L154.3,578.6 L154.9,578.9 L155.2,578.8 L155.2,577.8 L155.2,576.8 L155.2,575.7 L155.2,574.6 L155.3,573.4 L155.4,572.1 L155.5,570.9 L156.1,571.0 L156.7,571.3 L157.3,571.7 L157.5,570.5 L157.8,569.3 L158.2,568.0 L158.5,566.6 L159.0,565.3 L159.5,563.8 L160.0,562.4 L160.7,563.2 L161.4,564.1 L162.0,565.2 L162.6,565.1 L163.2,565.1 L163.8,565.1 L164.4,565.1 L165.0,565.3 L165.6,565.4 L166.2,565.7 L166.4,567.8 L166.6,569.8 L166.7,571.7 L167.2,572.0 L167.6,572.2 L168.0,572.6 L168.4,572.9 L168.7,573.4 L169.0,573.8 L169.3,574.4 L169.1,576.0 L169.0,577.4 L168.8,578.8 L168.9,579.3 L169.3,579.2 L170.0,578.6 L170.8,578.0 L171.6,577.4 L172.4,576.8 L173.3,576.2 L173.5,576.7 L173.7,577.2 L173.8,577.8 L174.7,577.3 L175.6,576.8 L176.7,576.3 L177.7,575.8 L178.9,575.3 L180.1,574.8 L181.3,574.3 L181.2,575.2 L180.9,576.2 L180.6,577.2 L181.8,576.9 L182.8,576.8 L183.3,577.1 L183.7,577.5 L184.0,578.0 L184.3,578.5 L184.6,579.0 L183.3,580.5 L182.0,581.9 L180.8,583.1 L181.0,583.6 L181.2,584.0 L181.3,584.4 L181.3,584.9 L181.3,585.4 L181.3,585.9 L181.2,586.4 L180.0,587.3 L178.9,588.1 L177.8,588.9 L177.7,589.3 L177.5,589.7 L177.3,590.1 L177.1,590.5 L176.7,590.9 L176.4,591.3 L176.1,591.6 L176.0,591.9 L175.9,592.2 L175.7,592.6 L176.3,592.8 L176.9,593.1 L177.5,593.4 L178.1,593.7 L178.8,594.0 L179.4,594.4 L180.1,594.8 L179.7,595.1 L179.2,595.4 L178.6,595.7 L179.2,596.2 L179.9,596.6 L180.5,597.1 L181.2,597.7 L181.9,598.2 L182.6,598.8 L183.3,599.5 L182.4,599.7 L181.6,599.9 L180.6,600.0 L180.7,600.5 L180.7,601.0 L180.7,601.4 L180.6,601.8 L180.6,602.3 L180.4,602.7 L180.3,603.1 L178.9,602.9 L177.7,602.6 L176.4,602.3 L176.3,602.7 L176.2,603.0 L176.0,603.3 L175.8,603.6 L175.6,603.8 L175.3,604.1 L175.0,604.3 L174.0,603.9 L173.1,603.6 L172.3,603.2 L172.0,603.4 L171.7,603.5 L171.5,603.7 L171.2,603.8 L170.8,603.8 L170.5,603.8 L170.1,603.8 L169.6,603.6 L169.4,603.7 L169.2,603.9 L169.0,604.1 L168.8,604.2 L168.6,604.3 L168.3,604.5 L168.1,604.6 L167.9,604.7 L167.7,604.8 L167.4,605.0 L167.2,605.1 L167.0,605.2 L166.7,605.3 L166.5,605.4 L166.3,605.5 L166.0,605.6 L165.8,605.6 L165.5,605.7 L165.3,605.8 L165.0,605.9 L164.8,605.9 L164.5,606.0 L164.3,606.0 L163.2,601.4 L163.1,601.4 L162.9,601.4 L162.8,601.4 L162.6,601.5 L162.5,601.5 L162.3,601.5 L162.2,601.5 L162.0,601.5 Z" fill="#f8e6c6"/><path d="M162.0,597.4 L162.0,621.2" stroke="#f8e6c6" stroke-width="1.5" fill="none" stroke-linecap="round"/>
</svg><div class="title">江苏未来五天最高气温预报</div>
<svg class="logo" viewBox="0 0 32 32"><circle cx="16" cy="16" r="15.7" fill="#1d4f42"/><circle cx="16" cy="16" r="13.8" fill="none" stroke="#5f8a7c" stroke-width="1.2" stroke-dasharray="1 1.2" opacity=".7"/><circle cx="16" cy="16" r="11.8" fill="#fdfcf6"/><path d="M16,4.4 L17,7 L18,8 L18.5,10 L19.3,11 L19.5,13.5 L20,14.5 L20,18 L12,18 L12,14.5 L12.5,13.5 L12.7,11 L13.5,10 L14,8 L15,7 Z" fill="#c89a3c"/><path d="M13,11 h6 M12.6,13.6 h6.8 M12.3,15.5 h7.4" stroke="#f2e3bd" stroke-width=".6"/><path d="M8.6,21.5 Q13,17.8 24,18.8 Q22.5,23 15.5,24 Q10.5,24.2 8.6,21.5 Z" fill="#1d4f42"/><ellipse cx="16.5" cy="21.2" rx="3.2" ry="1" fill="#fdfcf6"/></svg>
<div class="logotxt">江苏气象</div>
<div class="unit">单位：℃</div>
<div class="hd" style="left:294.5px">10月14日</div>
<div class="hd" style="left:407.3px">15日</div>
<div class="hd" style="left:520.1px">16日</div>
<div class="hd" style="left:632.9px">17日</div>
<div class="hd" style="left:745.7px">18日</div>
<div id="tblbg"></div>
<div class="city" style="top:157.50px">南京</div>
<div class="cell t25" style="left:294.5px;top:157.00px">25</div>
<div class="cell t25" style="left:407.3px;top:157.00px">25</div>
<div class="cell t25" style="left:520.1px;top:157.00px">25</div>
<div class="cell t25" style="left:632.9px;top:157.00px">25</div>
<div class="cell t23" style="left:745.7px;top:157.00px">23</div>
<div class="city" style="top:189.48px">无锡</div>
<div class="cell t26" style="left:294.5px;top:189.23px">26</div>
<div class="cell t23" style="left:407.3px;top:189.23px">23</div>
<div class="cell t26" style="left:520.1px;top:189.23px">26</div>
<div class="cell t27" style="left:632.9px;top:189.23px">27</div>
<div class="cell t24" style="left:745.7px;top:189.23px">24</div>
<div class="city" style="top:221.46px">徐州</div>
<div class="cell t24" style="left:294.5px;top:221.46px">24</div>
<div class="cell t26" style="left:407.3px;top:221.46px">26</div>
<div class="cell t25" style="left:520.1px;top:221.46px">25</div>
<div class="cell t19" style="left:632.9px;top:221.46px">19</div>
<div class="cell t22" style="left:745.7px;top:221.46px">22</div>
<div class="city" style="top:253.44px">常州</div>
<div class="cell t26" style="left:294.5px;top:253.69px">26</div>
<div class="cell t22" style="left:407.3px;top:253.69px">22</div>
<div class="cell t26" style="left:520.1px;top:253.69px">26</div>
<div class="cell t26" style="left:632.9px;top:253.69px">26</div>
<div class="cell t23" style="left:745.7px;top:253.69px">23</div>
<div class="city" style="top:285.42px">苏州</div>
<div class="cell t26" style="left:294.5px;top:285.92px">26</div>
<div class="cell t23" style="left:407.3px;top:285.92px">23</div>
<div class="cell t25" style="left:520.1px;top:285.92px">25</div>
<div class="cell t27" style="left:632.9px;top:285.92px">27</div>
<div class="cell t25" style="left:745.7px;top:285.92px">25</div>
<div class="city" style="top:317.40px">南通</div>
<div class="cell t24" style="left:294.5px;top:318.15px">24</div>
<div class="cell t22" style="left:407.3px;top:318.15px">22</div>
<div class="cell t24" style="left:520.1px;top:318.15px">24</div>
<div class="cell t26" style="left:632.9px;top:318.15px">26</div>
<div class="cell t24" style="left:745.7px;top:318.15px">24</div>
<div class="city" style="top:349.38px">连云港</div>
<div class="cell t25" style="left:294.5px;top:350.38px">25</div>
<div class="cell t26" style="left:407.3px;top:350.38px">26</div>
<div class="cell t24" style="left:520.1px;top:350.38px">24</div>
<div class="cell t23" style="left:632.9px;top:350.38px">23</div>
<div class="cell t20" style="left:745.7px;top:350.38px">20</div>
<div class="city" style="top:381.36px">淮安</div>
<div class="cell t25" style="left:294.5px;top:382.61px">25</div>
<div class="cell t26" style="left:407.3px;top:382.61px">26</div>
<div class="cell t25" style="left:520.1px;top:382.61px">25</div>
<div class="cell t24" style="left:632.9px;top:382.61px">24</div>
<div class="cell t22" style="left:745.7px;top:382.61px">22</div>
<div class="city" style="top:413.34px">盐城</div>
<div class="cell t25" style="left:294.5px;top:414.84px">25</div>
<div class="cell t25" style="left:407.3px;top:414.84px">25</div>
<div class="cell t24" style="left:520.1px;top:414.84px">24</div>
<div class="cell t25" style="left:632.9px;top:414.84px">25</div>
<div class="cell t23" style="left:745.7px;top:414.84px">23</div>
<div class="city" style="top:445.32px">扬州</div>
<div class="cell t27" style="left:294.5px;top:447.07px">27</div>
<div class="cell t26" style="left:407.3px;top:447.07px">26</div>
<div class="cell t27" style="left:520.1px;top:447.07px">27</div>
<div class="cell t26" style="left:632.9px;top:447.07px">26</div>
<div class="cell t23" style="left:745.7px;top:447.07px">23</div>
<div class="city" style="top:477.30px">镇江</div>
<div class="cell t25" style="left:294.5px;top:479.30px">25</div>
<div class="cell t24" style="left:407.3px;top:479.30px">24</div>
<div class="cell t26" style="left:520.1px;top:479.30px">26</div>
<div class="cell t26" style="left:632.9px;top:479.30px">26</div>
<div class="cell t23" style="left:745.7px;top:479.30px">23</div>
<div class="city" style="top:509.28px">泰州</div>
<div class="cell t25" style="left:294.5px;top:511.53px">25</div>
<div class="cell t24" style="left:407.3px;top:511.53px">24</div>
<div class="cell t25" style="left:520.1px;top:511.53px">25</div>
<div class="cell t25" style="left:632.9px;top:511.53px">25</div>
<div class="cell t23" style="left:745.7px;top:511.53px">23</div>
<div class="city" style="top:541.26px">宿迁</div>
<div class="cell t24" style="left:294.5px;top:543.76px">24</div>
<div class="cell t26" style="left:407.3px;top:543.76px">26</div>
<div class="cell t25" style="left:520.1px;top:543.76px">25</div>
<div class="cell t21" style="left:632.9px;top:543.76px">21</div>
<div class="cell t20" style="left:745.7px;top:543.76px">20</div><div class="legt">气温：℃</div>
<div class="lb" style="top:233.20px;background:#f63c2e"></div>
<div class="lb" style="top:242.47px;background:#f76c12"></div>
<div class="lb" style="top:251.74px;background:#fd8712"></div>
<div class="lb" style="top:261.01px;background:#fe9634"></div>
<div class="lb" style="top:270.28px;background:#fea353"></div>
<div class="lb" style="top:279.55px;background:#fdbc07"></div>
<div class="lb" style="top:288.82px;background:#fdc94a"></div>
<div class="lb" style="top:298.09px;background:#fed65a"></div>
<div class="lb" style="top:307.36px;background:#f5fb94"></div>
<div class="lb" style="top:316.63px;background:#dbfc9c"></div>
<div class="lb" style="top:325.90px;background:#b5fd9b"></div>
<div class="lb" style="top:335.17px;background:#a0fa6e"></div>
<div class="lb" style="top:344.44px;background:#8afc4e"></div>
<div class="lb" style="top:353.71px;background:#52fe02"></div>
<div class="lb" style="top:362.98px;background:#1cd900"></div>
<div class="lb" style="top:372.25px;background:#00d97e"></div>
<div class="lb" style="top:381.52px;background:#12e6a2"></div>
<div class="lb" style="top:390.79px;background:#00efcf"></div>
<div class="lb" style="top:400.06px;background:#84f3e0"></div>
<div class="lb" style="top:409.33px;background:#80fbff"></div>
<div class="lb" style="top:418.60px;background:#a8e6fd"></div>
<div class="lb" style="top:427.87px;background:#7fd3fb"></div>
<div class="lb" style="top:437.14px;background:#3ebafc"></div>
<div class="lb" style="top:446.41px;background:#4fb3fb"></div>
<div class="lb" style="top:455.68px;background:#16a3fb"></div>
<div class="lb" style="top:464.95px;background:#4a8ff7"></div>
<div class="lb" style="top:474.22px;background:#3c8afc"></div>
<div class="lb" style="top:483.49px;background:#3279ee"></div>
<div class="lb" style="top:492.76px;background:#0f62fa"></div>
<div class="lb" style="top:502.03px;background:#0a5afc"></div>
<div class="lb" style="top:511.30px;background:#1f5cf5"></div>
<div class="lb" style="top:520.57px;background:#0a4cfb"></div>
<div class="lb" style="top:529.84px;background:#1d3ef7"></div>
<div class="lb" style="top:539.11px;background:#1535ee"></div>
<div class="lb" style="top:548.38px;background:#1020d5"></div>
<div class="lb" style="top:557.65px;background:#5f2af7"></div>
<div class="ll" style="top:239.07px">35</div>
<div class="ll" style="top:248.34px">34</div>
<div class="ll" style="top:257.61px">33</div>
<div class="ll" style="top:266.88px">32</div>
<div class="ll" style="top:276.15px">31</div>
<div class="ll" style="top:285.42px">30</div>
<div class="ll" style="top:294.69px">29</div>
<div class="ll" style="top:303.96px">28</div>
<div class="ll" style="top:313.23px">27</div>
<div class="ll" style="top:322.50px">26</div>
<div class="ll" style="top:331.77px">25</div>
<div class="ll" style="top:341.04px">24</div>
<div class="ll" style="top:350.31px">23</div>
<div class="ll" style="top:359.58px">22</div>
<div class="ll" style="top:368.85px">21</div>
<div class="ll" style="top:378.12px">20</div>
<div class="ll" style="top:387.39px">19</div>
<div class="ll" style="top:396.66px">18</div>
<div class="ll" style="top:405.93px">17</div>
<div class="ll" style="top:415.20px">16</div>
<div class="ll" style="top:424.47px">15</div>
<div class="ll" style="top:433.74px">14</div>
<div class="ll" style="top:443.01px">13</div>
<div class="ll" style="top:452.28px">12</div>
<div class="ll" style="top:461.55px">11</div>
<div class="ll" style="top:470.82px">10</div>
<div class="ll" style="top:480.09px">9</div>
<div class="ll" style="top:489.36px">8</div>
<div class="ll" style="top:498.63px">7</div>
<div class="ll" style="top:507.90px">6</div>
<div class="ll" style="top:517.17px">5</div>
<div class="ll" style="top:526.44px">4</div>
<div class="ll" style="top:535.71px">3</div>
<div class="ll" style="top:544.98px">2</div>
<div class="ll" style="top:554.25px">1</div><div class="foot">注：本图为各城市单个站点预报,根据江苏省气象台10月13日16时预报制作。</div>
</body></html>
